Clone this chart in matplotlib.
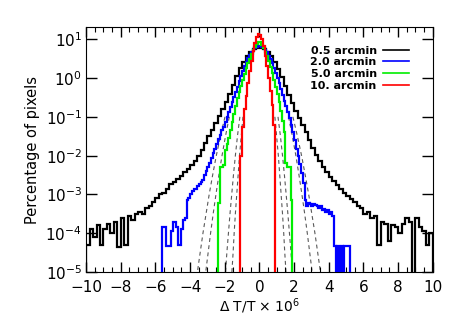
import matplotlib
matplotlib.use('Agg')
import matplotlib.pyplot as plt
import matplotlib.ticker as mticker
import numpy as np

# log10(percentage of pixels) per bin; -9 = empty bin
black_start, black_width = -10.0, 0.2
black_log = [
    -4.3, -3.9, -4.1, -3.8, -4.3, -3.9, -3.75, -4.0, -3.7, -4.35,
    -3.6, -4.3, -3.55, -3.65, -3.5, -3.45, -3.5, -3.35, -3.3, -3.2,
    -3.1, -2.98, -2.95, -2.85, -2.72, -2.68, -2.6, -2.52, -2.43, -2.35,
    -2.25, -2.15, -2.0, -1.85, -1.68, -1.5, -1.33, -1.15, -0.97, -0.8,
    -0.62, -0.42, -0.18, 0.05, 0.25, 0.42, 0.57, 0.67, 0.74, 0.77,
    0.77, 0.74, 0.67, 0.56, 0.41, 0.23, 0.02, -0.2, -0.43, -0.65,
    -0.85, -1.03, -1.2, -1.38, -1.6, -1.8, -1.98, -2.15, -2.3, -2.42,
    -2.55, -2.65, -2.75, -2.85, -2.95, -3.05, -3.12, -3.2, -3.3, -3.35,
    -3.5, -3.45, -3.6, -3.55, -4.3, -3.7, -3.75, -4.2, -3.8, -3.85,
    -4.0, -3.75, -3.6, -3.7, -9.0, -3.6, -3.85, -3.95, -4.3, -4.0,
]

blue_start, blue_width = -5.6, 0.1
blue_log = [
    -3.85, -3.85, -4.33, -4.33, -4.33, -3.95, -3.72, -3.72, -3.85, -4.3,
    -4.3, -3.9, -3.65, -3.6, -3.15, -3.1, -3.0, -2.92, -2.85, -2.85,
    -2.78, -2.72, -2.68, -2.62, -2.5, -2.4, -2.3, -2.2, -2.05, -1.93,
    -1.82, -1.7, -1.58, -1.47, -1.35, -1.25, -1.13, -1.0, -0.87, -0.74,
    -0.62, -0.49, -0.36, -0.22, -0.08, 0.06, 0.18, 0.3, 0.42, 0.52,
    0.6, 0.67, 0.73, 0.77, 0.8, 0.82, 0.82, 0.8, 0.77, 0.72,
    0.66, 0.58, 0.49, 0.39, 0.27, 0.14, 0.0, -0.14, -0.28, -0.43,
    -0.58, -0.73, -0.88, -1.03, -1.2, -1.4, -1.6, -1.82, -2.02, -2.22,
    -2.45, -2.7, -3.13, -3.3, -3.22, -3.25, -3.3, -3.25, -3.28, -3.3,
    -3.35, -3.3, -3.4, -3.38, -3.45, -3.4, -3.5, -3.45, -3.55, -4.32,
    -9.0, -4.32, -9.0, -4.32, -9.0, -4.32, -4.32, -4.32,
]

green_start, green_width = -2.4, 0.1
green_log = [
    -3.21, -2.3, -2.3, -2.25, -1.85, -1.7, -1.55, -1.35, -1.12, -0.92,
    -0.72, -0.52, -0.35, -0.2, -0.05, 0.1, 0.25, 0.38, 0.5, 0.62,
    0.72, 0.8, 0.87, 0.92, 0.92, 0.86, 0.78, 0.68, 0.56, 0.43,
    0.28, 0.12, -0.05, -0.22, -0.42, -0.62, -0.85, -1.1, -1.4, -2.2,
    -2.3, -2.3, -3.13,
]

red_start, red_width = -1.1, 0.1
red_log = [
    -2.0, -1.25, -0.8, -0.45, -0.12, 0.18, 0.45, 0.7, 0.9, 1.05,
    1.14, 1.12, 1.0, 0.82, 0.58, 0.3, 0.0, -0.33, -0.7, -1.2,
]

# Gaussian fits (dashed): half-width at given log10 levels
fit_levels = [-1.0, -1.5, -2.0, -2.5, -3.0, -3.5, -4.0, -4.5, -5.0, -5.2]
fit_black = [1.96, 2.22, 2.46, 2.67, 2.87, 3.05, 3.23, 3.39, 3.55, 3.61]
fit_blue = [1.71, 1.93, 2.13, 2.31, 2.48, 2.64, 2.79, 2.93, 3.07, 3.12]
fit_green = [1.10, 1.24, 1.36, 1.47, 1.57, 1.67, 1.76, 1.85, 1.93, 1.96]
fit_red = [0.92, 1.02, 1.12, 1.20, 1.28, 1.36, 1.43, 1.49, 1.56, 1.58]
fit_center = -0.03

labels = ['0.5 arcmin', '2.0 arcmin', '5.0 arcmin', '10. arcmin']
colors = ['black', '#0000ff', '#00ee00', '#ff0000']


def edges_for(start, width, n):
    return start + width * np.arange(n + 1)


fig = plt.figure(figsize=(4.58, 3.27), dpi=100)
ax = fig.add_axes([0.188, 0.168, 0.757, 0.749])

# dashed gaussian fits, underneath the histograms
lv = np.array(fit_levels)
for half in [fit_black, fit_blue, fit_green, fit_red]:
    h = np.array(half)
    ax.plot(fit_center - h, 10 ** lv, ls=(0, (3.5, 3)), color='0.35', lw=0.8, zorder=1)
    ax.plot(fit_center + h, 10 ** lv, ls=(0, (3.5, 3)), color='0.35', lw=0.8, zorder=1)

series = [
    (black_start, black_width, black_log),
    (blue_start, blue_width, blue_log),
    (green_start, green_width, green_log),
    (red_start, red_width, red_log),
]
for (start, width, vals), col, lab in zip(series, colors, labels):
    v = 10 ** np.array(vals)
    e = edges_for(start, width, len(vals))
    ax.stairs(v, e, baseline=1e-9, color=col, lw=1.6, zorder=3)
    ax.plot([], [], color=col, lw=1.2, label=lab)

ax.set_yscale('log')
ax.set_xlim(-10, 10)
ax.set_ylim(1e-5, 20.5)

ax.xaxis.set_major_locator(mticker.MultipleLocator(2))
ax.xaxis.set_minor_locator(mticker.MultipleLocator(0.5))
ax.yaxis.set_major_locator(mticker.LogLocator(base=10, numticks=10))
ax.yaxis.set_minor_locator(mticker.NullLocator())
ax.tick_params(which='both', direction='in', top=True, right=True, labelsize=11)
ax.tick_params(which='major', length=7, width=1)
ax.tick_params(which='minor', length=3.5, width=0.8)
ax.tick_params(axis='y', length=8, pad=3)
ax.tick_params(axis='x', pad=6)

ax.set_xlabel(r'$\Delta$ T/T $\times$ 10$^6$', fontsize=10, labelpad=1)
ax.set_ylabel('Percentage of pixels', fontsize=10.5, labelpad=4)

# IDL style legend: label first, line after it
ax.legend(loc='upper right', bbox_to_anchor=(0.96, 0.965), frameon=False,
          markerfirst=False, handlelength=2.3, handletextpad=0.6,
          labelspacing=0.15, prop={'size': 8, 'weight': 'bold'})

fig.savefig('out.png', dpi=100)
